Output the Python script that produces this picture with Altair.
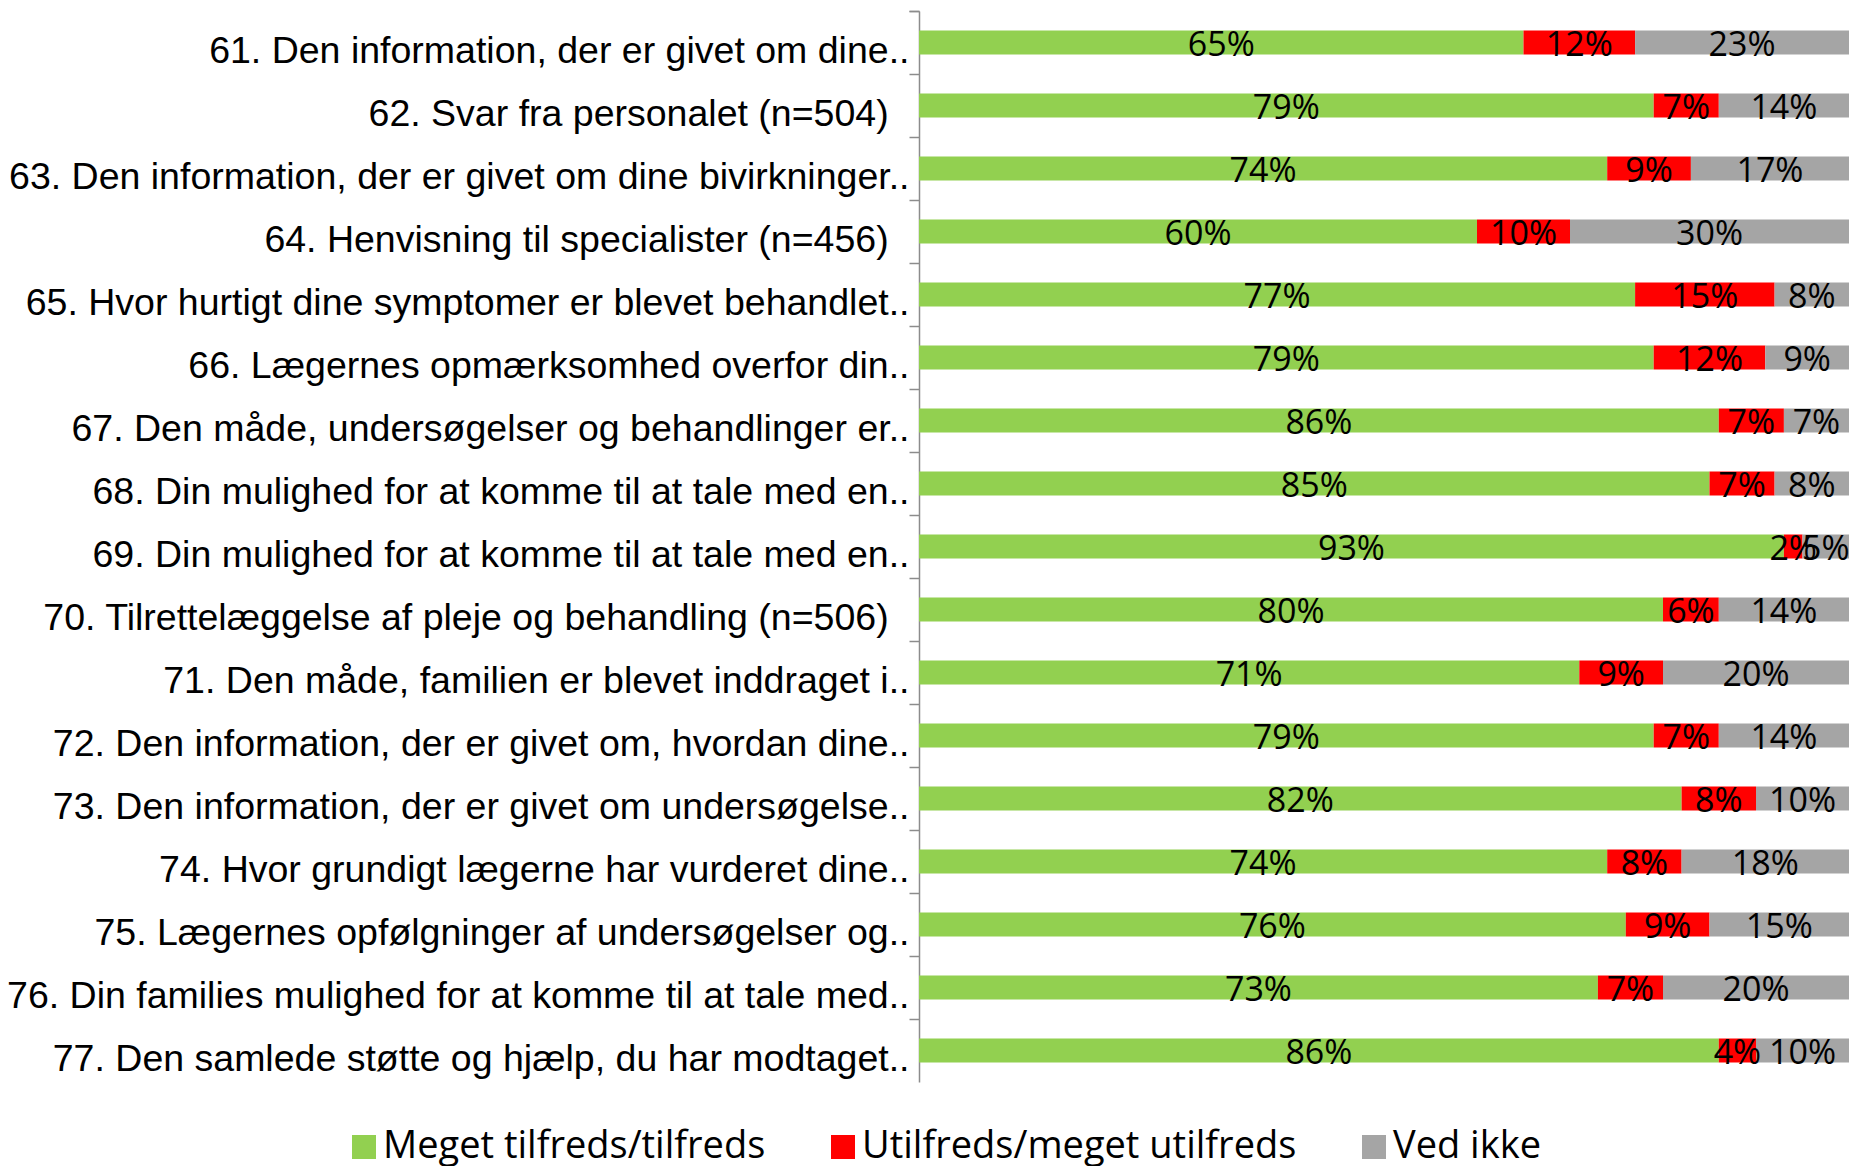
import altair as alt
import pandas as pd

questions = [
    "61. Den information, der er givet om dine..",
    "62. Svar fra personalet (n=504)\u00a0\u00a0\u200b",
    "63. Den information, der er givet om dine bivirkninger..",
    "64. Henvisning til specialister (n=456)\u00a0\u00a0\u200b",
    "65. Hvor hurtigt dine symptomer er blevet behandlet..",
    "66. Lægernes opmærksomhed overfor din..",
    "67. Den måde, undersøgelser og behandlinger er..",
    "68. Din mulighed for at komme til at tale med en..",
    "69. Din mulighed for at komme til at tale med en..\u200b",
    "70. Tilrettelæggelse af pleje og behandling (n=506)\u00a0\u00a0\u200b",
    "71. Den måde, familien er blevet inddraget i..",
    "72. Den information, der er givet om, hvordan dine..",
    "73. Den information, der er givet om undersøgelse..",
    "74. Hvor grundigt lægerne har vurderet dine..",
    "75. Lægernes opfølgninger af undersøgelser og..",
    "76. Din families mulighed for at komme til at tale med..",
    "77. Den samlede støtte og hjælp, du har modtaget..",
]
satisfied = [65, 79, 74, 60, 77, 79, 86, 85, 93, 80, 71, 79, 82, 74, 76, 73, 86]
dissatisfied = [12, 7, 9, 10, 15, 12, 7, 7, 2, 6, 9, 7, 8, 8, 9, 7, 4]
dont_know = [23, 14, 17, 30, 8, 9, 7, 8, 5, 14, 20, 14, 10, 18, 15, 20, 10]

series_names = ["Meget tilfreds/tilfreds", "Utilfreds/meget utilfreds", "Ved ikke"]
series_colors = ["#92D050", "#FF0000", "#A5A5A5"]

rows = []
for q, a, b, c in zip(questions, satisfied, dissatisfied, dont_know):
    for k, (name, v) in enumerate(zip(series_names, (a, b, c))):
        rows.append({"question": q, "series": name, "order": k, "value": v, "label": f"{v}%"})
df = pd.DataFrame(rows)

y_enc = alt.Y(
    "question:N",
    sort=questions,
    title=None,
    scale=alt.Scale(paddingInner=0, paddingOuter=0),
    axis=alt.Axis(
        title=None,
        domainColor="#8C8C8C",
        domainWidth=1.5,
        tickColor="#8C8C8C",
        tickWidth=1.5,
        tickSize=10,
        bandPosition=0,
        tickExtra=True,
        labelFont="Liberation Sans",
        labelFontSize=37.5,
        labelColor="black",
        labelLimit=1000,
        labelPadding=0,
        labelBaseline="alphabetic",
        labelOffset=20,
        labelAlign="right",
    ),
)

base = (
    alt.Chart(df)
    .transform_stack(
        stack="value", as_=["x0", "x1"], groupby=["question"], sort=[alt.SortField("order")]
    )
    .transform_calculate(mid="(datum.x0 + datum.x1) / 2")
)

xscale = alt.Scale(domain=[0, 100], nice=False, zero=True)

bars = base.mark_bar(size=24).encode(
    x=alt.X("x0:Q", scale=xscale, axis=None),
    x2="x1:Q",
    y=y_enc,
    color=alt.Color(
        "series:N",
        scale=alt.Scale(domain=series_names, range=series_colors),
        sort=series_names,
        legend=alt.Legend(
            title=None,
            orient="none",
            legendX=-574,
            legendY=1117,
            direction="horizontal",
            symbolType="square",
            symbolSize=576,
            symbolStrokeWidth=0,
            labelFont="Open Sans",
            labelFontSize=38,
            labelColor="black",
            labelLimit=1000,
            columnPadding=58,
            labelOffset=0,
        ),
    ),
)

texts = base.mark_text(
    font="Open Sans", fontSize=34, baseline="alphabetic", dy=13, color="black"
).encode(
    x=alt.X("mid:Q", scale=xscale, axis=None),
    y=y_enc,
    text="label:N",
)

chart = (
    (bars + texts)
    .properties(
        width=930,
        height=1071,
        padding={"left": 911, "top": 3, "right": 0, "bottom": 90},
        autosize=alt.AutoSizeParams(type="none"),
    )
    .configure_view(stroke=None)
)

chart.save("out.html", embed_options={"renderer": "svg", "actions": False})
